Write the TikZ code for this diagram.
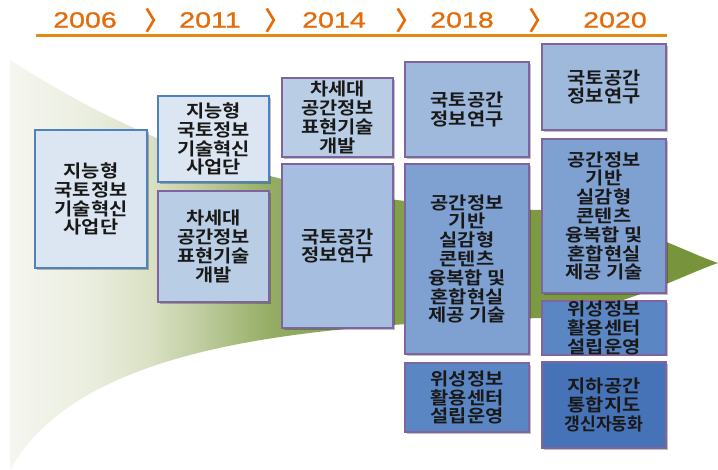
\documentclass[tikz,border=0pt]{standalone}
\usepackage{fontspec}
\usetikzlibrary{shadows}
\newfontfamily\kr[FakeStretch=1.13]{Noto Sans CJK KR Bold}
\newfontfamily\yr[FakeStretch=1.3,FakeBold=1]{Liberation Sans}
\newfontfamily\chv{Noto Sans CJK KR Bold}
\definecolor{yrorange}{HTML}{E46C0A}
\definecolor{lnorange}{HTML}{E8890F}
\definecolor{bblue}{HTML}{4F81BD}
\definecolor{bpurple}{HTML}{8064A2}
\definecolor{fA}{HTML}{DCE6F2}
\definecolor{fB}{HTML}{B9CDE5}
\definecolor{fC}{HTML}{A6BFE0}
\definecolor{fD}{HTML}{9FB9DD}
\definecolor{fE}{HTML}{7EA1D1}
\definecolor{fF}{HTML}{5A86C4}
\definecolor{fG}{HTML}{4673B8}
\definecolor{g0}{HTML}{F5F6F0}
\definecolor{gA}{HTML}{E9EDDD}
\definecolor{gB}{HTML}{D9E0C3}
\definecolor{gC}{HTML}{BFCC9F}
\definecolor{gD}{HTML}{93AC62}
\definecolor{gE}{HTML}{82A04A}
\definecolor{gF}{HTML}{76933A}
\pgfdeclarehorizontalshading{horn}{100bp}{color(0bp)=(g0); color(25bp)=(g0); color(31bp)=(gA); color(35bp)=(gB); color(38.5bp)=(gC); color(43.5bp)=(gD); color(52bp)=(gE); color(75bp)=(gF); color(100bp)=(gF)}
\begin{document}
\begin{tikzpicture}[x=1pt,y=-1pt,
  bx/.style={draw=bpurple, line width=1.3pt, align=center, inner sep=0pt,
    font=\kr\fontsize{17.5}{18.8}\selectfont, text=black!90,
    drop shadow={shadow xshift=1.5pt, shadow yshift=-1.5pt, fill=black, opacity=0.25}},
  yrs/.style={font=\yr\fontsize{22}{22}\selectfont, text=yrorange, inner sep=0pt},
  chev/.style={font=\chv\fontsize{26}{26}\selectfont, text=yrorange, inner sep=0pt}]
\useasboundingbox (0,0) rectangle (718,469);
\fill[white] (0,0) rectangle (718,469);
% background green horn
\shade[shading=horn] (10,60) .. controls (150,150) and (300,205) .. (540,210)
  .. controls (620,215) and (680,250) .. (718,263)
  .. controls (680,276) and (620,310) .. (540,318)
  .. controls (300,325) and (80,345) .. (10,470) -- cycle;
% header
\node[chev] (c1) at (157,21) {〉};
\node[chev] (c2) at (277,21) {〉};
\node[chev] (c3) at (408,21) {〉};
\node[chev] (c4) at (541,21) {〉};
\node[yrs] (y1) at (85,20) {2006};
\node[yrs] (y2) at (210,20) {2011};
\node[yrs] (y3) at (334,20) {2014};
\node[yrs] (y4) at (462,20) {2018};
\node[yrs] (y5) at (615,20) {2020};
\draw[lnorange, line width=2.4pt] (36,35.5) -- (667,35.5);
% boxes
\node[bx, draw=bblue, fill=fA, minimum width=112pt, minimum height=138pt] (b1) at (91,199) {지능형\\국토정보\\기술혁신\\사업단};
\node[bx, draw=bblue, fill=fA, minimum width=111pt, minimum height=86pt] (b2) at (213.5,139) {지능형\\국토정보\\기술혁신\\사업단};
\node[bx, fill=fB, minimum width=111pt, minimum height=111pt] (b3) at (213.5,246.5) {차세대\\공간정보\\표현기술\\개발};
\node[bx, fill=fB, minimum width=111pt, minimum height=79pt] (b4) at (337.5,117.5) {차세대\\공간정보\\표현기술\\개발};
\node[bx, fill=fC, minimum width=111pt, minimum height=164pt] (b5) at (337.5,246) {국토공간\\정보연구};
\node[bx, fill=fD, minimum width=124pt, minimum height=95pt] (b6) at (467,109.5) {국토공간\\정보연구};
\node[bx, fill=fE, minimum width=124pt, minimum height=190pt] (b7) at (467,259) {공간정보\\기반\\실감형\\콘텐츠\\융복합 및\\혼합현실\\제공 기술};
\node[bx, fill=fF, minimum width=124pt, minimum height=69pt] (b8) at (467,397.5) {위성정보\\활용센터\\설립운영};
\node[bx, fill=fD, minimum width=124pt, minimum height=86pt] (b9) at (604,87) {국토공간\\정보연구};
\node[bx, fill=fE, minimum width=124pt, minimum height=154pt] (b10) at (604,216) {공간정보\\기반\\실감형\\콘텐츠\\융복합 및\\혼합현실\\제공 기술};
\node[bx, fill=fF, minimum width=124pt, minimum height=52pt] (b11) at (604,328) {위성정보\\활용센터\\설립운영};
\node[bx, fill=fG, minimum width=124pt, minimum height=86pt] (b12) at (604,405) {지하공간\\통합지도\\\scalebox{0.87}[1]{갱신자동화}};
\end{tikzpicture}
\end{document}
